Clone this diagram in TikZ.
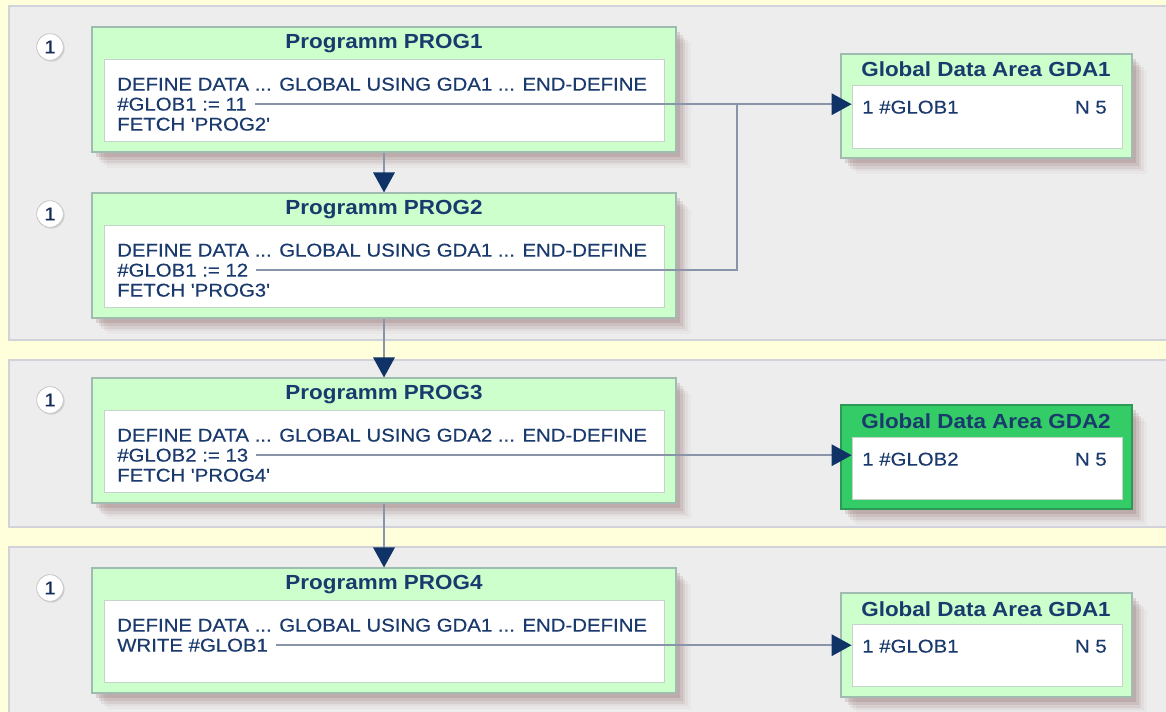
\documentclass[tikz,border=0pt]{standalone}
\usepackage{fontspec}
\setmainfont[FakeStretch=1.1]{Liberation Sans}
\newfontfamily\bodyfam[FakeStretch=1.1,FakeBold=0.35]{Liberation Sans}
\usetikzlibrary{shadows,fit,arrows.meta}
\definecolor{bgy}{HTML}{FFFFDC}
\definecolor{panelc}{HTML}{EDEDED}
\definecolor{panelb}{HTML}{D2D2DA}
\definecolor{lgreen}{HTML}{CCFFCC}
\definecolor{lgreenb}{HTML}{A0BCB0}
\definecolor{dgreen}{HTML}{33CC66}
\definecolor{dgreenb}{HTML}{2A9A55}
\definecolor{navy}{HTML}{1A3A6E}
\definecolor{connc}{HTML}{8A94A8}
\definecolor{tipc}{HTML}{0F3366}
\definecolor{shc}{HTML}{7A4A4A}
\definecolor{innerb}{HTML}{C4D4C8}
\newcommand\sq{\char39\relax}
\begin{document}
\begin{tikzpicture}[x=0.75pt,y=-0.75pt,
  bodyfont/.style={font=\bodyfam\fontsize{13.9}{15}\selectfont},
  shadowed/.style={
    drop shadow={shadow xshift=3pt, shadow yshift=-4pt, fill=shc, opacity=0.16},
    drop shadow={shadow xshift=5pt, shadow yshift=-6pt, fill=shc, opacity=0.12},
    drop shadow={shadow xshift=7pt, shadow yshift=-8pt, fill=shc, opacity=0.09},
    drop shadow={shadow xshift=9pt, shadow yshift=-10pt, fill=shc, opacity=0.06},
    drop shadow={shadow xshift=11pt, shadow yshift=-12pt, fill=shc, opacity=0.04}},
  pbox/.style={shadowed, rectangle, fill=lgreen, draw=lgreenb, line width=0.8pt, inner sep=0pt},
  dbox/.style={shadowed, rectangle, fill=dgreen, draw=dgreenb, line width=0.8pt, inner sep=0pt},
  ibox/.style={rectangle, fill=white, draw=innerb, line width=0.6pt, inner sep=0pt},
  ttl/.style={text=navy, font=\bfseries\fontsize{15.3}{17}\selectfont, inner sep=0pt},
  txt/.style={text=navy, bodyfont, inner sep=0pt, anchor=base west},
  txtr/.style={text=navy, bodyfont, inner sep=0pt, anchor=base east},
  circ/.style={circle, fill=white, draw=gray!45, line width=0.6pt, minimum size=20pt, inner sep=0pt,
    text=navy!80!black, bodyfont,
    drop shadow={shadow xshift=1pt, shadow yshift=-1pt, fill=gray, opacity=0.25}},
  connl/.style={draw=connc, line width=1.6pt},
  conn/.style={connl, -{Triangle[length=15pt,width=16pt,color=tipc]}},
]
\useasboundingbox (0,0) rectangle (1166,712);
\fill[bgy] (0,0) rectangle (1166,712);
% panels
\filldraw[fill=panelc, draw=panelb, line width=0.8pt] (9,6) rectangle (1180,340);
\filldraw[fill=panelc, draw=panelb, line width=0.8pt] (9,360) rectangle (1180,527);
\filldraw[fill=panelc, draw=panelb, line width=0.8pt] (9,547) rectangle (1180,730);

% circled numbers
\node[circ] (c1) at (50,47) {1};
\node[circ] (c2) at (50,214) {1};
\node[circ] (c3) at (50,400) {1};
\node[circ] (c4) at (50,588) {1};

% PROG1
\node[pbox, fit={(92,27) (676,152)}] (p1) {};
\node[ibox, fit={(104,59) (664,141)}] (p1i) {};
\node[ttl] (p1t) at (384,44) {Programm PROG1};
\node[txt] (p1a) at (117,90.6) {DEFINE DATA ... GLOBAL USING GDA1 ... END-DEFINE};
\node[txt] (p1b) at (117,110.6) {\#GLOB1 := 11};
\node[txt] (p1c) at (117,130.6) {FETCH \sq PROG2\sq};

% PROG2
\node[pbox, fit={(92,193) (676,318)}] (p2) {};
\node[ibox, fit={(104,225) (664,307)}] (p2i) {};
\node[ttl] (p2t) at (384,210) {Programm PROG2};
\node[txt] (p2a) at (117,256.6) {DEFINE DATA ... GLOBAL USING GDA1 ... END-DEFINE};
\node[txt] (p2b) at (117,276.6) {\#GLOB1 := 12};
\node[txt] (p2c) at (117,296.6) {FETCH \sq PROG3\sq};

% PROG3
\node[pbox, fit={(92,378) (676,503)}] (p3) {};
\node[ibox, fit={(104,410) (664,492)}] (p3i) {};
\node[ttl] (p3t) at (384,395) {Programm PROG3};
\node[txt] (p3a) at (117,441.6) {DEFINE DATA ... GLOBAL USING GDA2 ... END-DEFINE};
\node[txt] (p3b) at (117,461.6) {\#GLOB2 := 13};
\node[txt] (p3c) at (117,481.6) {FETCH \sq PROG4\sq};

% PROG4
\node[pbox, fit={(92,568) (676,693)}] (p4) {};
\node[ibox, fit={(104,600) (664,682)}] (p4i) {};
\node[ttl] (p4t) at (384,585) {Programm PROG4};
\node[txt] (p4a) at (117,631.6) {DEFINE DATA ... GLOBAL USING GDA1 ... END-DEFINE};
\node[txt] (p4b) at (117,651.6) {WRITE \#GLOB1};

% GDA boxes
\node[pbox, fit={(841,54) (1132,158)}] (g1) {};
\node[ibox, fit={(852,85) (1122,148)}] (g1i) {};
\node[ttl] (g1t) at (986,69) {Global Data Area GDA1};
\node[txt] (g1a) at (862,113.6) {1 \#GLOB1};
\node[txtr] (g1b) at (1107,113.6) {N 5};

\node[dbox, fit={(841,405) (1132,509)}] (g2) {};
\node[ibox, fit={(852,437) (1122,499)}] (g2i) {};
\node[ttl] (g2t) at (986,421) {Global Data Area GDA2};
\node[txt] (g2a) at (862,465.6) {1 \#GLOB2};
\node[txtr] (g2b) at (1107,465.6) {N 5};

\node[pbox, fit={(841,593) (1132,697)}] (g3) {};
\node[ibox, fit={(852,624) (1122,686)}] (g3i) {};
\node[ttl] (g3t) at (986,609) {Global Data Area GDA1};
\node[txt] (g3a) at (862,652.6) {1 \#GLOB1};
\node[txtr] (g3b) at (1107,652.6) {N 5};

% connectors
\coordinate (jx) at (737,0);
\draw[conn] (p1.south) -- (p2.north);
\draw[conn] (p2.south) -- (p3.north);
\draw[conn] (p3.south) -- (p4.north);
\draw[conn, shorten <=6pt] (p1b.east) -- (p1b.east -| g1i.west);
\draw[connl, shorten <=6pt] (p2b.east) -| (p1b.east -| jx);
\draw[conn, shorten <=6pt] (p3b.east) -- (p3b.east -| g2i.west);
\draw[conn, shorten <=6pt] (p4b.east) -- (p4b.east -| g3i.west);
\end{tikzpicture}
\end{document}
